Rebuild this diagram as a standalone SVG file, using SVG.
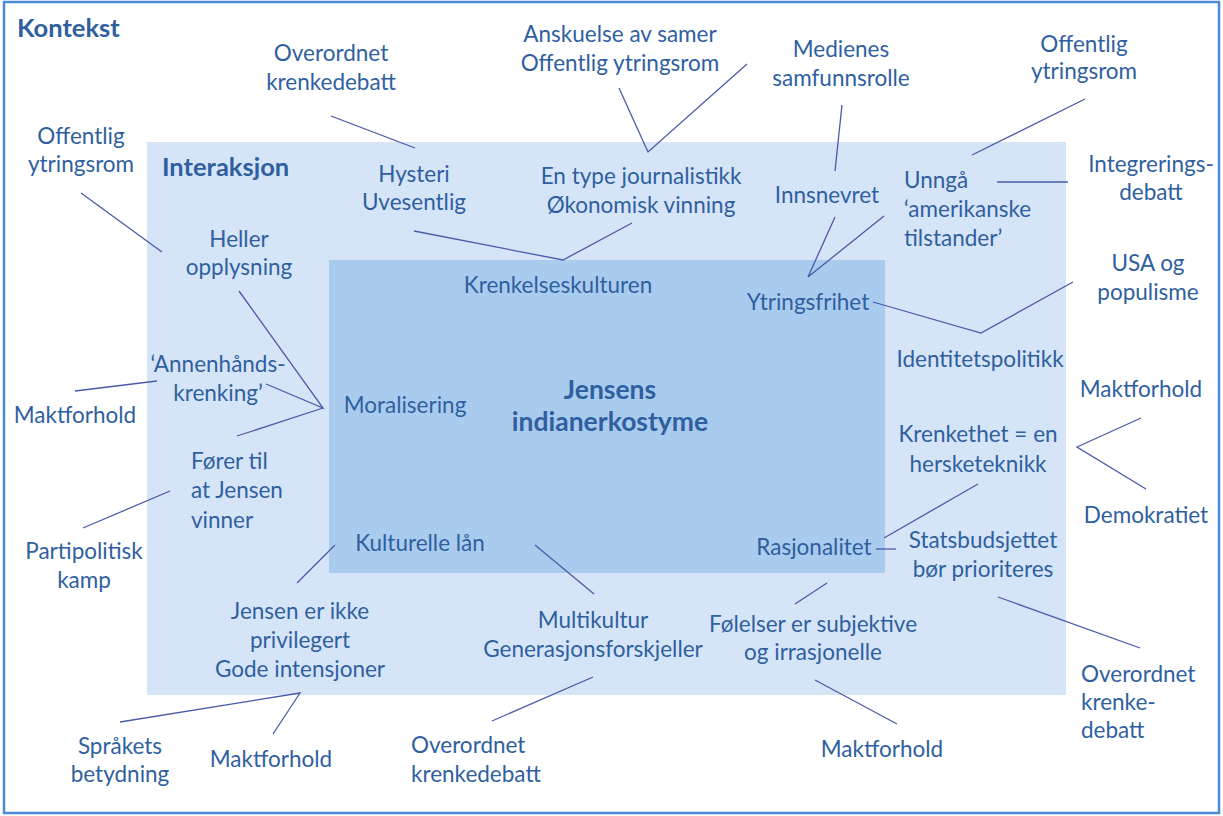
<svg xmlns="http://www.w3.org/2000/svg" width="1223" height="816" viewBox="0 0 1223 816">
<style>
text{font-family:Lato,"Open Sans","DejaVu Sans",sans-serif;font-size:22.5px;fill:#2f5f9f}
.c{text-anchor:middle}
.b{font-weight:bold}
.h{font-size:25.5px}
.j{font-size:26.5px}
.cn line,.cn polyline{stroke:#4a5aa8;stroke-width:1.3;fill:none}
</style>
<rect x="0" y="0" width="1223" height="816" fill="#ffffff"/>
<rect id="kontekst" x="4" y="2" width="1215" height="811" fill="#ffffff" stroke="#4a8bd6" stroke-width="2.5"/>
<rect id="interaksjon" x="147" y="142" width="919" height="553" fill="#d5e5f7"/>
<rect id="kjerne" x="329" y="260" width="556" height="313" fill="#a9cbee"/>
<g class="cn" id="connectors">
<line x1="331" y1="116" x2="415" y2="148"/>
<line x1="81" y1="193" x2="162" y2="252"/>
<polyline points="414,231 563,260 632,223"/>
<polyline points="619,88 648,152 747,64"/>
<line x1="842" y1="105" x2="835" y2="171"/>
<line x1="1085" y1="99" x2="972" y2="155"/>
<line x1="997" y1="182" x2="1068" y2="182"/>
<polyline points="835,217 808,277 884,216"/>
<polyline points="239,291 323,408 266,384"/>
<line x1="237" y1="436" x2="323" y2="408"/>
<line x1="75" y1="391" x2="157" y2="381"/>
<line x1="83" y1="528" x2="170" y2="491"/>
<line x1="335" y1="545" x2="297" y2="583"/>
<polyline points="873,302 981,333 1073,282"/>
<polyline points="1141,418 1077,447 1146,489"/>
<line x1="978" y1="484" x2="884" y2="538"/>
<line x1="876" y1="549" x2="896" y2="549"/>
<line x1="827" y1="583" x2="795" y2="604"/>
<line x1="998" y1="597" x2="1140" y2="648"/>
<line x1="815" y1="680" x2="897" y2="724"/>
<line x1="535" y1="545" x2="594" y2="594"/>
<line x1="593" y1="677" x2="492" y2="721"/>
<polyline points="120,722 300,693 273,734"/>
</g>
<g id="t-kontekst"><text class="b h" x="17" y="37">Kontekst</text></g>
<g id="t-interaksjon"><text class="b h" x="162" y="176">Interaksjon</text></g>
<g id="n-jensens"><text class="c b j" x="610" y="399">Jensens</text><text class="c b j" x="610" y="431">indianerkostyme</text></g>
<g id="n-overordnet1"><text class="c" x="331" y="61">Overordnet</text><text class="c" x="331" y="90">krenkedebatt</text></g>
<g id="n-offentlig1"><text class="c" x="81" y="144">Offentlig</text><text class="c" x="81" y="172">ytringsrom</text></g>
<g id="n-heller"><text class="c" x="239" y="247">Heller</text><text class="c" x="239" y="275">opplysning</text></g>
<g id="n-hysteri"><text class="c" x="414" y="182">Hysteri</text><text class="c" x="414" y="210">Uvesentlig</text></g>
<g id="n-anskuelse"><text class="c" x="620" y="42">Anskuelse av samer</text><text class="c" x="620" y="71">Offentlig ytringsrom</text></g>
<g id="n-journalistikk"><text class="c" x="641" y="184">En type journalistikk</text><text class="c" x="641" y="213">Økonomisk vinning</text></g>
<g id="n-medienes"><text class="c" x="841" y="57">Medienes</text><text class="c" x="841" y="86">samfunnsrolle</text></g>
<g id="n-offentlig2"><text class="c" x="1084" y="52">Offentlig</text><text class="c" x="1084" y="79">ytringsrom</text></g>
<g id="n-innsnevret"><text class="c" x="827" y="203">Innsnevret</text></g>
<g id="n-unnga"><text x="904" y="188">Unngå</text><text x="904" y="217">‘amerikanske</text><text x="904" y="246">tilstander’</text></g>
<g id="n-integrering"><text class="c" x="1151" y="172">Integrerings-</text><text class="c" x="1151" y="200">debatt</text></g>
<g id="n-krenkelseskulturen"><text class="c" x="558" y="293">Krenkelseskulturen</text></g>
<g id="n-ytringsfrihet"><text class="c" x="808" y="310">Ytringsfrihet</text></g>
<g id="n-usa"><text class="c" x="1148" y="271">USA og</text><text class="c" x="1148" y="300">populisme</text></g>
<g id="n-identitet"><text class="c" x="980" y="367">Identitetspolitikk</text></g>
<g id="n-maktforhold-r"><text class="c" x="1141" y="397">Maktforhold</text></g>
<g id="n-krenkethet"><text class="c" x="978" y="442">Krenkethet = en</text><text class="c" x="978" y="472">hersketeknikk</text></g>
<g id="n-demokratiet"><text class="c" x="1146" y="523">Demokratiet</text></g>
<g id="n-statsbudsjett"><text class="c" x="983" y="548">Statsbudsjettet</text><text class="c" x="983" y="577">bør prioriteres</text></g>
<g id="n-rasjonalitet"><text class="c" x="814" y="555">Rasjonalitet</text></g>
<g id="n-folelser"><text class="c" x="813" y="632">Følelser er subjektive</text><text class="c" x="813" y="660">og irrasjonelle</text></g>
<g id="n-maktforhold-b"><text class="c" x="882" y="757">Maktforhold</text></g>
<g id="n-overordnet-r"><text x="1081" y="682">Overordnet</text><text x="1081" y="710">krenke-</text><text x="1081" y="738">debatt</text></g>
<g id="n-multikultur"><text class="c" x="593" y="628">Multikultur</text><text class="c" x="593" y="657">Generasjonsforskjeller</text></g>
<g id="n-jensen-ikke"><text class="c" x="300" y="619">Jensen er ikke</text><text class="c" x="300" y="648">privilegert</text><text class="c" x="300" y="677">Gode intensjoner</text></g>
<g id="n-sprakets"><text class="c" x="120" y="754">Språkets</text><text class="c" x="120" y="782">betydning</text></g>
<g id="n-maktforhold-bl"><text class="c" x="271" y="767">Maktforhold</text></g>
<g id="n-overordnet-b"><text x="411" y="753">Overordnet</text><text x="411" y="782">krenkedebatt</text></g>
<g id="n-kulturelle"><text class="c" x="420" y="551">Kulturelle lån</text></g>
<g id="n-moralisering"><text class="c" x="405" y="413">Moralisering</text></g>
<g id="n-annenhands"><text class="c" x="218" y="372">‘Annenhånds-</text><text class="c" x="218" y="401">krenking’</text></g>
<g id="n-maktforhold-l"><text class="c" x="75" y="423">Maktforhold</text></g>
<g id="n-forer"><text x="191" y="469">Fører til</text><text x="191" y="498">at Jensen</text><text x="191" y="528">vinner</text></g>
<g id="n-partipolitisk"><text class="c" x="84" y="559">Partipolitisk</text><text class="c" x="84" y="588">kamp</text></g>
</svg>
